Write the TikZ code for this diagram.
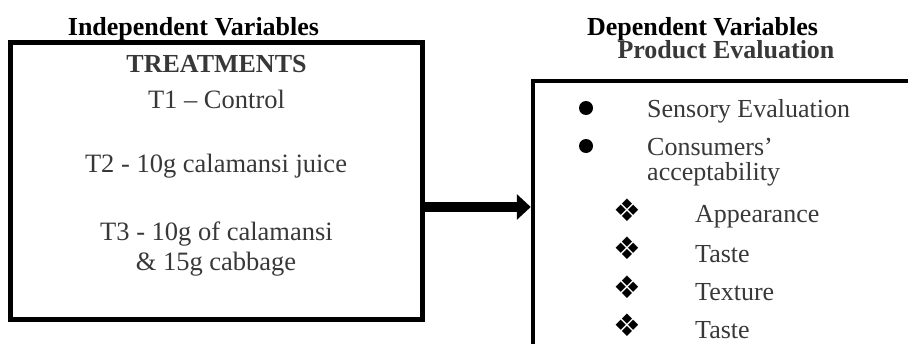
\documentclass[tikz,border=0pt]{standalone}
\usepackage{fontspec}
\setmainfont{Liberation Serif}
\newfontfamily\dingfont{DejaVu Sans}
\usetikzlibrary{arrows.meta}
\definecolor{boxtext}{gray}{0.22}
\tikzset{
  frame/.style={draw, line width=4.5pt},
  head/.style={font=\fontsize{26}{30}\selectfont\bfseries, anchor=base, inner sep=0pt},
  body/.style={font=\fontsize{26.5}{30}\selectfont, text=boxtext, anchor=base, inner sep=0pt},
  item/.style={body, font=\fontsize{26}{30}\selectfont, anchor=base west},
  ding/.style={font=\dingfont\fontsize{31}{31}\selectfont, inner sep=0pt},
  link/.style={line width=10pt, -{Triangle[length=14pt,width=25pt]}}
}
\begin{document}
\begin{tikzpicture}[x=1pt,y=-1pt]
\useasboundingbox (0,0) rectangle (908,343);
\clip (0,0) rectangle (908,343);
% titles
\node[head] (indep) at (193.5,35) {Independent Variables};
\node[head] (dep) at (702.5,35) {Dependent Variables};
\node[head, text=boxtext] (prod) at (726,58) {Product Evaluation};
% the two boxes
\node[frame, minimum width=412pt, minimum height=277pt] (treat) at (216.5,181) {};
\node[frame, minimum width=398pt, minimum height=289pt] (eval) at (732,225.5) {};
\draw[link] ([yshift=-26pt]treat.east) -- ([yshift=-26pt]treat.east -| eval.west);
% treatments
\node[body, font=\fontsize{26}{30}\selectfont\bfseries] (trt) at (216.5,72) {TREATMENTS};
\node[body] (t1) at (216.5,108) {T1 -- Control};
\node[body] (t2) at (216,172) {T2 - 10g calamansi juice};
\node[body] (t3) at (216.5,240) {T3 - 10g of calamansi};
\node[body] (t3b) at (216,270) {\& 15g cabbage};
% evaluation list
\fill[black] (586,108) circle[radius=7pt];
\fill[black] (586,146) circle[radius=7pt];
\node[item] (sens) at (647,117) {Sensory Evaluation};
\node[item] (cons) at (647,155) {Consumers’};
\node[item] (acc) at (647,180) {acceptability};
\node[ding] (d1) at (627,210) {❖};
\node[ding] (d2) at (627,248) {❖};
\node[ding] (d3) at (627,287) {❖};
\node[ding] (d4) at (627,325) {❖};
\node[item] (app) at (695,222) {Appearance};
\node[item] (tas) at (695,262) {Taste};
\node[item] (tex) at (695,300) {Texture};
\node[item] (tas2) at (695,338) {Taste};
\end{tikzpicture}
\end{document}
